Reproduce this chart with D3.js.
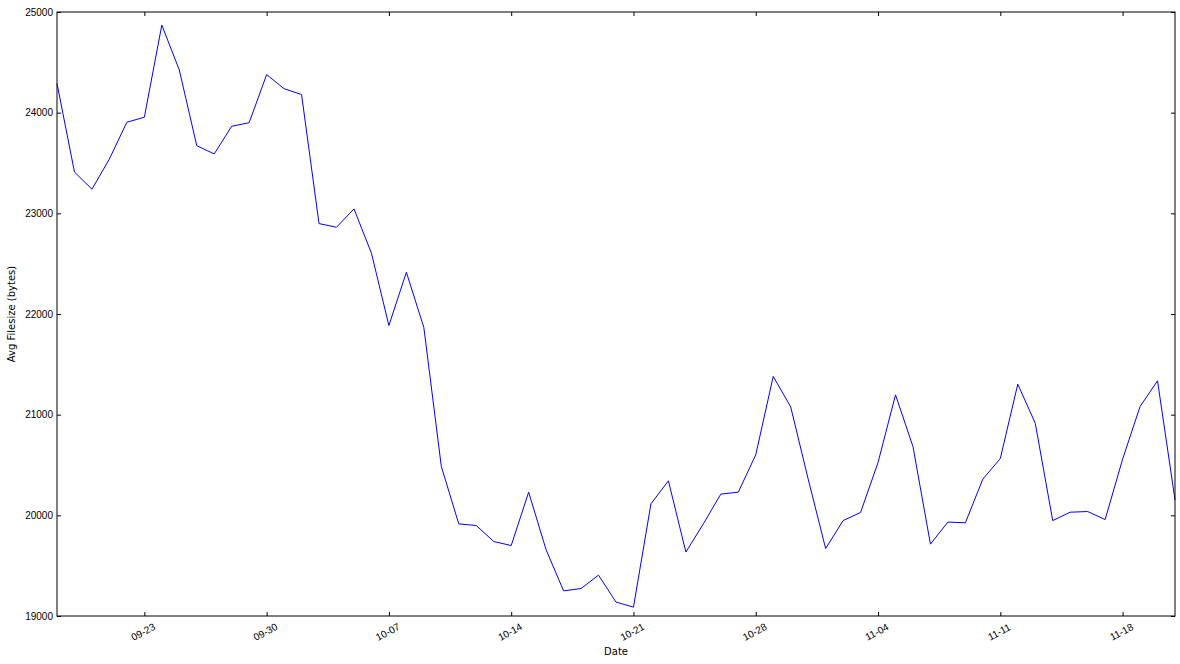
<!DOCTYPE html>
<html>
<head>
<meta charset="utf-8">
<script src="https://cdn.jsdelivr.net/npm/d3@7/dist/d3.min.js"></script>
<style>
  html, body { margin: 0; padding: 0; background: #fff; }
  svg { display: block; font-family: "DejaVu Sans", sans-serif; }
  .tick text { font-size: 10px; fill: #000; }
</style>
</head>
<body>
<svg id="chart" width="1180" height="664"></svg>
<script>
// daily averages, 09-18 .. 11-21
var startDate = "2015-09-18";
var avgFilesize = [
  24290, 23410, 23240, 23540, 23905, 23955, 24870, 24425, 23672, 23590,
  23865, 23900, 24378, 24238, 24180, 22898, 22862, 23044, 22604, 21885,
  22415, 21865, 20485, 19915, 19899, 19740, 19700, 20230, 19657, 19250,
  19273, 19406, 19138, 19088, 20114, 20343, 19635, 19915, 20211, 20230,
  20601, 21380, 21077, 20362, 19670, 19948, 20028, 20524, 21197, 20683,
  19714, 19933, 19926, 20360, 20564, 21303, 20915, 19948, 20031, 20038,
  19958, 20558, 21081, 21336, 20154
];
var xTickLabels = ["2015-09-23", "2015-09-30", "2015-10-07", "2015-10-14",
                   "2015-10-21", "2015-10-28", "2015-11-04", "2015-11-11", "2015-11-18"];
var yTicks = [19000, 20000, 21000, 22000, 23000, 24000, 25000];

(function () {
    "use strict";
    var svg = d3.select("#chart"),
        margin = {top: 12, right: 5, bottom: 48, left: 57},
        width = 1180 - margin.left - margin.right,
        height = 664 - margin.top - margin.bottom;

    var parse = d3.timeParse("%Y-%m-%d"),
        fmt = d3.timeFormat("%m-%d"),
        t0 = parse(startDate);

    var data = avgFilesize.map(function (v, i) {
        return {date: d3.timeDay.offset(t0, i), value: v};
    });

    var x = d3.scaleTime()
        .domain(d3.extent(data, function (d) { return d.date; }))
        .range([0, width]);
    var y = d3.scaleLinear().domain([19000, 25000]).range([height, 0]);

    var g = svg.append("g")
        .attr("transform", "translate(" + margin.left + "," + margin.top + ")");

    var xTicks = xTickLabels.map(parse);

    // line
    g.append("path")
        .datum(data)
        .attr("fill", "none")
        .attr("stroke", "#0000ff")
        .attr("stroke-width", 1)
        .attr("d", d3.line()
            .x(function (d) { return x(d.date); })
            .y(function (d) { return y(d.value); }));

    // bottom axis, inward ticks
    var xb = g.append("g")
        .attr("transform", "translate(0," + height + ")")
        .call(d3.axisBottom(x).tickValues(xTicks).tickFormat(fmt)
            .tickSizeInner(-4).tickSizeOuter(0));
    xb.selectAll(".tick text")
        .attr("text-anchor", "middle")
        .attr("dy", null)
        .attr("y", 0)
        .attr("transform", "translate(0,19) rotate(-28)");

    // top axis ticks
    g.append("g")
        .call(d3.axisTop(x).tickValues(xTicks).tickFormat("")
            .tickSizeInner(-4).tickSizeOuter(0));

    // left axis
    g.append("g")
        .call(d3.axisLeft(y).tickValues(yTicks).tickFormat(d3.format("d"))
            .tickSizeInner(-4).tickSizeOuter(0).tickPadding(4));

    // right axis ticks
    g.append("g")
        .attr("transform", "translate(" + width + ",0)")
        .call(d3.axisRight(y).tickValues(yTicks).tickFormat("")
            .tickSizeInner(-4).tickSizeOuter(0));

    g.selectAll(".domain").remove();

    // frame
    g.append("rect")
        .attr("width", width)
        .attr("height", height)
        .attr("fill", "none")
        .attr("stroke", "#000")
        .attr("stroke-width", 1);

    // axis labels
    svg.append("text")
        .attr("x", margin.left + width / 2)
        .attr("y", 655)
        .attr("text-anchor", "middle")
        .style("font-size", "10px")
        .text("Date");

    svg.append("text")
        .attr("transform", "translate(15," + (margin.top + height / 2) + ") rotate(-90)")
        .attr("text-anchor", "middle")
        .style("font-size", "10px")
        .text("Avg Filesize (bytes)");
})();
</script>
</body>
</html>
